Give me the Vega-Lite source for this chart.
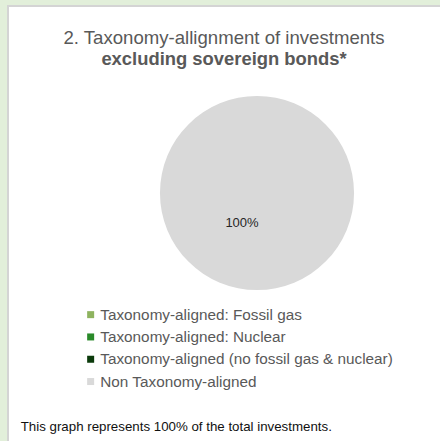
{
  "$schema": "https://vega.github.io/schema/vega-lite/v6.json",
  "width": 440,
  "height": 440,
  "autosize": {"type": "none"},
  "padding": {"left": 8, "top": 6, "right": 0, "bottom": 0},
  "background": "#e2efda",
  "view": {"fill": "#ffffff", "stroke": "#d4d4d4", "strokeWidth": 2},
  "config": {
    "view": {"fill": "#ffffff", "stroke": "#d4d4d4", "strokeWidth": 2},
    "font": "Liberation Sans"
  },
  "title": {
    "text": "2. Taxonomy-allignment of investments",
    "subtitle": "excluding sovereign bonds*",
    "anchor": "middle",
    "frame": "group",
    "offset": -62,
    "dx": -4,
    "font": "Liberation Sans",
    "fontSize": 18.6,
    "fontWeight": "normal",
    "color": "#595959",
    "subtitleFont": "Liberation Sans",
    "subtitleFontSize": 18.4,
    "subtitleFontWeight": "bold",
    "subtitleColor": "#595959",
    "subtitlePadding": 2
  },
  "data": {
    "values": [
      {"category": "Taxonomy-aligned: Fossil gas", "share": 0},
      {"category": "Taxonomy-aligned: Nuclear", "share": 0},
      {"category": "Taxonomy-aligned (no fossil gas & nuclear)", "share": 0},
      {"category": "Non Taxonomy-aligned", "share": 1}
    ]
  },
  "layer": [
    {
      "mark": {"type": "arc", "x": 249, "y": 187, "radius": 97},
      "encoding": {
        "theta": {"field": "share", "type": "quantitative", "stack": true},
        "color": {
          "field": "category",
          "type": "nominal",
          "sort": null,
          "scale": {
            "domain": [
              "Taxonomy-aligned: Fossil gas",
              "Taxonomy-aligned: Nuclear",
              "Taxonomy-aligned (no fossil gas & nuclear)",
              "Non Taxonomy-aligned"
            ],
            "range": ["#8eb35f", "#2a8a2a", "#0b3a0b", "#d9d9d9"]
          },
          "legend": {
            "orient": "none",
            "legendX": 75,
            "legendY": 301,
            "title": null,
            "padding": 0,
            "symbolType": "square",
            "symbolSize": 49,
            "symbolStrokeWidth": 0,
            "labelFont": "Liberation Sans",
            "labelFontSize": 15.3,
            "labelColor": "#595959",
            "labelOffset": 2,
            "rowPadding": 6.3,
            "labelLimit": 400
          }
        }
      }
    },
    {
      "transform": [{"filter": "datum.share > 0"}],
      "mark": {"type": "text", "x": 249, "y": 187, "radius": 30, "dx": -15, "fontSize": 13, "color": "#262626", "font": "Liberation Sans"},
      "encoding": {
        "theta": {"field": "share", "type": "quantitative", "stack": true},
        "text": {"field": "share", "type": "quantitative", "format": ".0%"}
      }
    },
    {
      "data": {"values": [{"note": "This graph represents 100% of the total investments."}]},
      "mark": {"type": "text", "x": 12.7, "y": 420.5, "align": "left", "baseline": "middle", "fontSize": 13.3, "color": "#111111", "font": "Liberation Sans"},
      "encoding": {"text": {"field": "note", "type": "nominal"}}
    }
  ]
}
